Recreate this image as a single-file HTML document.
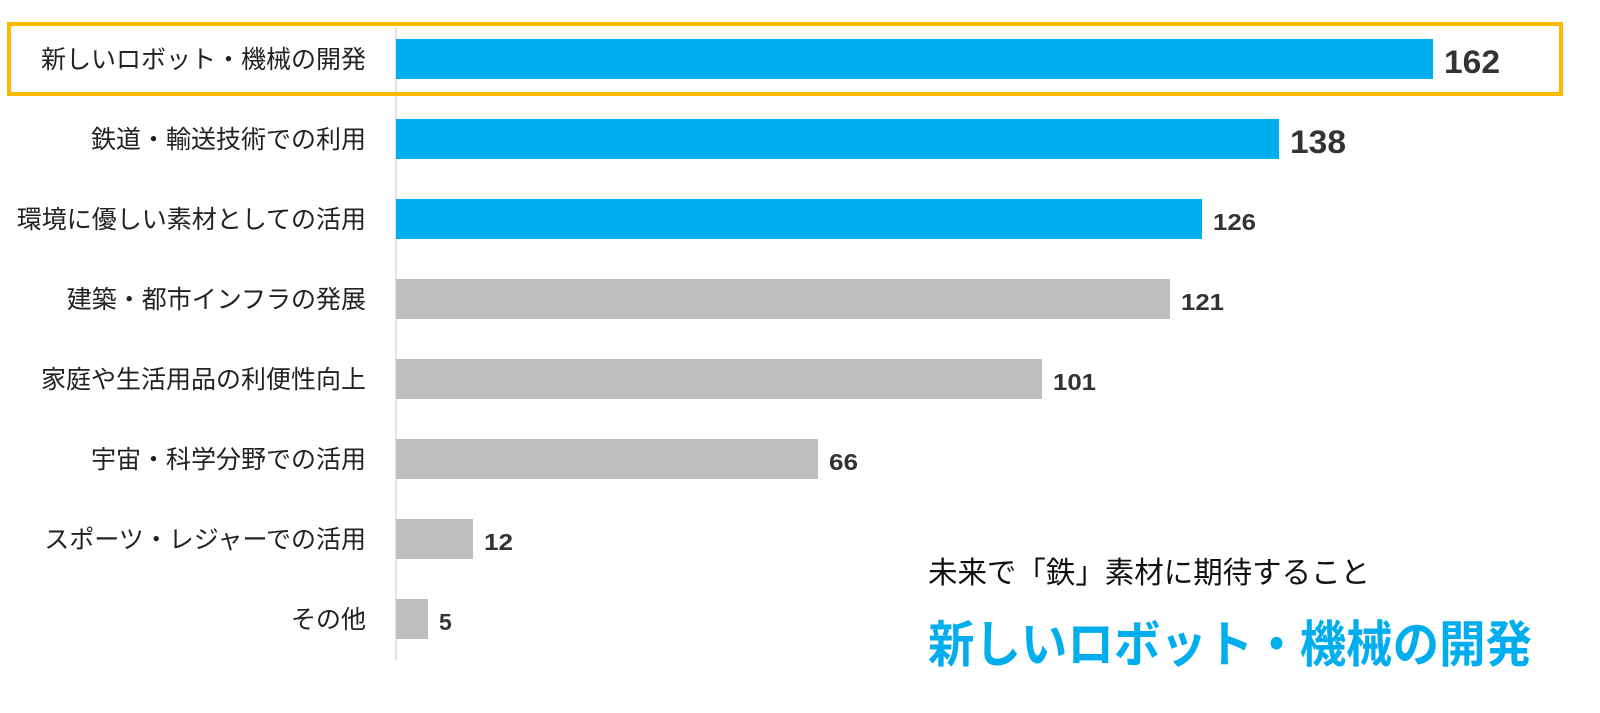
<!DOCTYPE html>
<html><head><meta charset="utf-8"><style>
html,body{margin:0;padding:0;background:#fff;width:1600px;height:713px;overflow:hidden}
text{font-family:"Liberation Sans","Noto Sans CJK JP",sans-serif}
</style></head><body>
<svg width="1600" height="713" viewBox="0 0 1600 713" xmlns="http://www.w3.org/2000/svg">
<line x1="396" y1="28" x2="396" y2="660" stroke="#d9d9d9" stroke-width="1.5"/>
<g font-size="25" fill="#222" text-anchor="end">
<text x="366" y="68">新しいロボット・機械の開発</text>
<text x="366" y="148">鉄道・輸送技術での利用</text>
<text x="366" y="228">環境に優しい素材としての活用</text>
<text x="366" y="308">建築・都市インフラの発展</text>
<text x="366" y="388">家庭や生活用品の利便性向上</text>
<text x="366" y="468">宇宙・科学分野での活用</text>
<text x="366" y="548">スポーツ・レジャーでの活用</text>
<text x="366" y="628">その他</text>
</g>
<g>
<rect x="396" y="39" width="1037" height="40" fill="#00AEEF"/>
<rect x="396" y="119" width="883" height="40" fill="#00AEEF"/>
<rect x="396" y="199" width="806" height="40" fill="#00AEEF"/>
<rect x="396" y="279" width="774" height="40" fill="#BFBFBF"/>
<rect x="396" y="359" width="646" height="40" fill="#BFBFBF"/>
<rect x="396" y="439" width="422" height="40" fill="#BFBFBF"/>
<rect x="396" y="519" width="77" height="40" fill="#BFBFBF"/>
<rect x="396" y="599" width="32" height="40" fill="#BFBFBF"/>
</g>
<g font-weight="bold" fill="#333">
<text x="1444" y="73" font-size="32" textLength="56" lengthAdjust="spacingAndGlyphs">162</text>
<text x="1290" y="153" font-size="32" textLength="56" lengthAdjust="spacingAndGlyphs">138</text>
<text x="1213" y="230" font-size="23" textLength="43" lengthAdjust="spacingAndGlyphs">126</text>
<text x="1181" y="310" font-size="23" textLength="43" lengthAdjust="spacingAndGlyphs">121</text>
<text x="1053" y="390" font-size="23" textLength="43" lengthAdjust="spacingAndGlyphs">101</text>
<text x="829" y="470" font-size="23" textLength="29" lengthAdjust="spacingAndGlyphs">66</text>
<text x="484" y="550" font-size="23" textLength="29" lengthAdjust="spacingAndGlyphs">12</text>
<text x="439" y="630" font-size="23">5</text>
</g>
<rect x="9" y="24" width="1552" height="70" fill="none" stroke="#FBB900" stroke-width="4"/>
<text x="928" y="583" font-size="30" fill="#111" textLength="442" lengthAdjust="spacingAndGlyphs">未来で「鉄」素材に期待すること</text>
<text x="928" y="662" font-size="50" font-weight="bold" fill="#00AEEF" textLength="604" lengthAdjust="spacingAndGlyphs">新しいロボット・機械の開発</text>
</svg>
</body></html>
